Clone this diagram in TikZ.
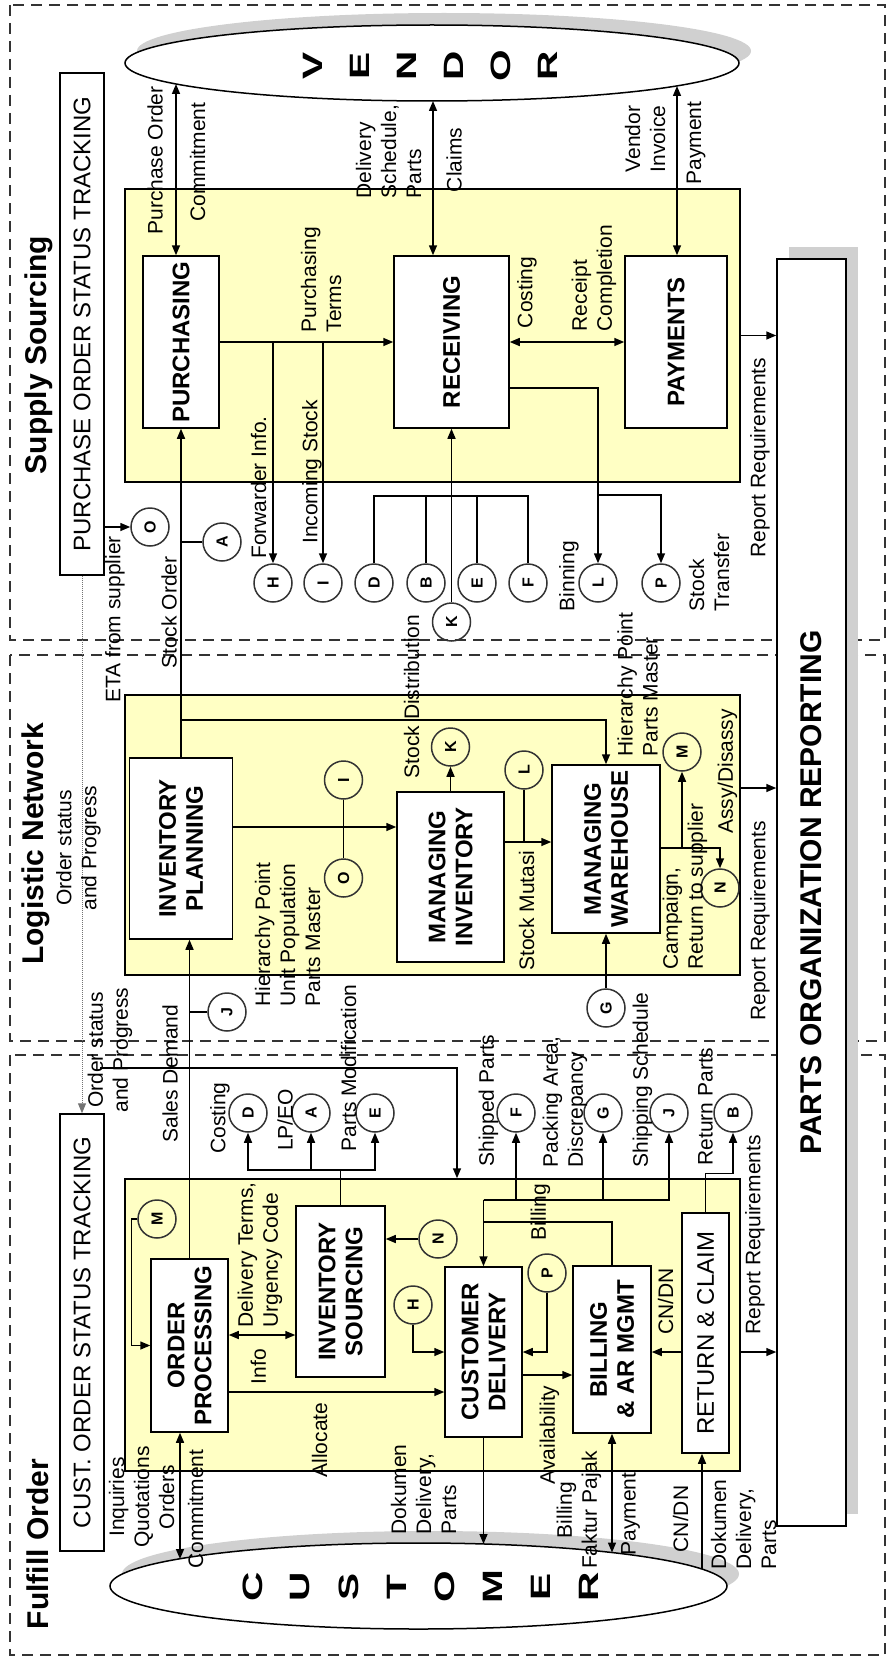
\documentclass[tikz,border=0pt]{standalone}
\usepackage{fontspec}
\setmainfont{Liberation Sans}
\usetikzlibrary{arrows.meta,shapes.geometric}

\definecolor{areafill}{RGB}{255,255,196}
\definecolor{shadowgray}{RGB}{208,208,208}

\tikzset{every picture/.style={line width=1.5pt}}
\tikzset{
  secframe/.style={dash pattern=on 11pt off 7pt, line width=1.6pt, draw=black!80},
  area/.style={draw, fill=areafill, inner sep=0pt},
  proc/.style={draw, fill=white, rotate=90, inner sep=2pt, align=center, font=\bfseries\fontsize{24}{27}\selectfont},
  track/.style={draw, fill=white, rotate=90, inner sep=0pt, font=\fontsize{24}{27}\selectfont},
  conn/.style={circle, draw=black!80, rotate=90, minimum size=38pt, inner sep=0pt, font=\bfseries\fontsize{16}{16}\selectfont},
  lbl/.style={rotate=90, inner sep=0pt, align=left, font=\fontsize{21}{25}\selectfont},
  sect/.style={rotate=90, inner sep=0pt, font=\bfseries\fontsize{30}{30}\selectfont},
  party/.style={ellipse, draw, fill=white, inner sep=0pt},
  bigch/.style={rotate=90, inner sep=0pt, font=\bfseries\fontsize{28}{28}\selectfont},
  arr/.style={-{Triangle[length=10pt,width=8pt]}},
  darr/.style={{Triangle[length=10pt,width=8pt]}-{Triangle[length=10pt,width=8pt]}},
  status/.style={densely dotted, draw=black!55, line width=1pt, -{Triangle[length=10pt,width=8pt]}}
}
\newcommand{\widech}[1]{\scalebox{1.45}[1]{#1}}

\begin{document}
\begin{tikzpicture}[x=1pt,y=1pt,yscale=-1]
\useasboundingbox (0,0) rectangle (888,1659);
\fill[white] (0,0) rectangle (888,1659);

%Section frames
\draw[secframe] (10,5) rectangle (885,640);
\draw[secframe] (10,655) rectangle (885,1041);
\draw[secframe] (10,1055) rectangle (885,1655);
\node[sect] (tsup) at (38.5,355) {Supply Sourcing};
\node[sect] (tlog) at (36,844) {Logistic Network};
\node[sect] (tful) at (37.5,1544) {Fulfill Order};

%Yellow areas
\node[area, minimum width=615pt, minimum height=293pt] (supply) at (432.5,335.5) {};
\node[area, minimum width=615pt, minimum height=280pt] (logistic) at (432.5,835) {};
\node[area, minimum width=615pt, minimum height=292pt] (fulfill) at (432.5,1325) {};

%Reporting box
\fill[shadowgray] (789,247) rectangle (858,1514);
\node[proc, minimum width=1267pt, minimum height=69pt, font=\bfseries\fontsize{30}{30}\selectfont] (report) at (811.5,892.5) {PARTS ORGANIZATION REPORTING};

%Vendor and customer
\fill[shadowgray] (444,51) ellipse [x radius=307, y radius=38];
\node[party, minimum width=614pt, minimum height=76pt] (vendor) at (432,63) {};
\fill[shadowgray] (430.5,1574) ellipse [x radius=308.5, y radius=43];
\node[party, minimum width=617pt, minimum height=86pt] (customer) at (418.5,1586) {};
\node[bigch] (v1) at (313,66) {\widech{V}};
\node[bigch] (v2) at (360,66) {\widech{E}};
\node[bigch] (v3) at (407,66) {\widech{N}};
\node[bigch] (v4) at (454,66) {\widech{D}};
\node[bigch] (v5) at (501,66) {\widech{O}};
\node[bigch] (v6) at (548,66) {\widech{R}};
\node[bigch] (c1) at (252.5,1587) {\widech{C}};
\node[bigch] (c2) at (300.5,1587) {\widech{U}};
\node[bigch] (c3) at (348.5,1587) {\widech{S}};
\node[bigch] (c4) at (396.5,1587) {\widech{T}};
\node[bigch] (c5) at (444.5,1587) {\widech{O}};
\node[bigch] (c6) at (492.5,1587) {\widech{M}};
\node[bigch] (c7) at (540.5,1587) {\widech{E}};
\node[bigch] (c8) at (588.5,1587) {\widech{R}};
\coordinate (vpo) at (176,84);
\coordinate (vrc) at (433,101);
\coordinate (vpy) at (677,86);
\coordinate (cop) at (180,1559);
\coordinate (ccd) at (483.5,1544);
\coordinate (cbl) at (612,1552.5);
\coordinate (crc) at (702,1569);
\coordinate (ordst) at (100,1068);

%Process boxes
\node[proc, minimum width=172pt, minimum height=76pt] (purch) at (181,342) {PURCHASING};
\node[proc, minimum width=172pt, minimum height=115pt] (recv) at (451.5,342) {RECEIVING};
\node[proc, minimum width=172pt, minimum height=102pt] (paym) at (676,342) {PAYMENTS};
\node[proc, minimum width=181pt, minimum height=103pt] (invplan) at (181,848.5) {INVENTORY\\PLANNING};
\node[proc, minimum width=170pt, minimum height=107pt] (maninv) at (450.5,877) {MANAGING\\INVENTORY};
\node[proc, minimum width=168pt, minimum height=108pt] (manwh) at (606,849) {MANAGING\\WAREHOUSE};
\node[proc, minimum width=173pt, minimum height=77pt] (ordproc) at (189.5,1345.5) {ORDER\\PROCESSING};
\node[proc, minimum width=171pt, minimum height=89pt] (invsrc) at (340.5,1291.5) {INVENTORY\\SOURCING};
\node[proc, minimum width=170pt, minimum height=77pt] (custdel) at (483.5,1352) {CUSTOMER\\DELIVERY};
\node[proc, minimum width=167pt, minimum height=78pt] (billing) at (612,1349.5) {BILLING\\\& AR MGMT};
\node[track, minimum width=240pt, minimum height=47pt] (retclaim) at (705.5,1333) {RETURN \& CLAIM};
\node[track, minimum width=502pt, minimum height=44pt] (potrack) at (82,324) {PURCHASE ORDER STATUS TRACKING};
\node[track, minimum width=437pt, minimum height=44pt] (cotrack) at (82,1332.5) {CUST. ORDER STATUS TRACKING};

%Connector circles
\node[conn] (cO1) at (150,527) {O};
\node[conn] (cA1) at (222,542) {A};
\node[conn] (cH1) at (273,583) {H};
\node[conn] (cI1) at (323,583) {I};
\node[conn] (cD1) at (374,583) {D};
\node[conn] (cB1) at (426,583) {B};
\node[conn] (cE1) at (477,583) {E};
\node[conn] (cF1) at (528,583) {F};
\node[conn] (cK1) at (451.5,622) {K};
\node[conn] (cL1) at (598,583) {L};
\node[conn] (cP1) at (661,583) {P};
\node[conn] (cK2) at (450.5,747) {K};
\node[conn] (cI2) at (343.5,780) {I};
\node[conn] (cO2) at (343.5,878) {O};
\node[conn] (cL2) at (524,770) {L};
\node[conn] (cM2) at (682,752) {M};
\node[conn] (cN2) at (720,888) {N};
\node[conn] (cJ2) at (227,1012) {J};
\node[conn] (cG2) at (606,1008) {G};
\node[conn] (cD3) at (248,1113) {D};
\node[conn] (cA3) at (311,1113) {A};
\node[conn] (cE3) at (375,1113) {E};
\node[conn] (cF3) at (516,1113) {F};
\node[conn] (cG3) at (603,1113) {G};
\node[conn] (cJ3) at (669,1113) {J};
\node[conn] (cB3) at (733,1113) {B};
\node[conn] (cM3) at (157,1219) {M};
\node[conn] (cN3) at (438,1239) {N};
\node[conn] (cH3) at (413,1305) {H};
\node[conn] (cP3) at (547,1273) {P};

%Supply connectors
\draw[darr] (vpo) -- (purch.east -| vpo);
\draw[darr] (vrc) -- (recv.east -| vrc);
\draw[darr] (vpy) -- (paym.east -| vpy);
\draw[arr] (purch.south) -- (recv.north);
\draw[arr] (cH1 |- purch.south) -- (cH1);
\draw[arr] (cI1 |- purch.south) -- (cI1);
\draw[darr] (recv.south) -- (paym.north);
\draw[arr] (recv.south |- 0,388) -| (cL1);
\draw[arr] (cL1 |- 0,495) -| (cP1);
\draw (cD1) |- (cF1 |- 0,496) -- (cF1);
\draw (cB1) -- (cB1 |- 0,496);
\draw (cE1) -- (cE1 |- 0,496);
\draw[arr] (cK1) -- (recv.west);
\draw[arr] (potrack.south |- cO1) -- (cO1);
\draw[arr] (invplan.east) -- (purch.west);
\draw (invplan.east |- cA1) -- (cA1);
\draw[arr] (invplan.east |- 0,720) -| (manwh.east);
\draw[status] (potrack.west) -- (cotrack.east);

%Logistic connectors
\draw[arr] (invplan.south |- 0,827) -- (maninv.north |- 0,827);
\draw (cI2) -- (cO2);
\draw[arr] (maninv.east) -- (cK2);
\draw[arr] (maninv.south |- 0,842) -- (manwh.north |- 0,842);
\draw (cL2) -- (cL2 |- 0,842);
\draw[arr] (manwh.south |- 0,848) -| (cN2);
\draw[arr] (cM2 |- 0,848) -- (cM2);
\draw[arr] (cG2) -- (manwh.west);
\draw[arr] (ordproc.east) -- (ordproc.east |- invplan.west);
\draw (ordproc.east |- cJ2) -- (cJ2);
\draw[arr] (ordst) -| ([xshift=24.5pt]fulfill.north);

%Fulfill connectors
\draw[darr] (cop) -- (cop |- ordproc.west);
\draw[arr] (cM3.north) -- +(-6,0) |- (ordproc.north);
\draw[darr] (ordproc.south |- 0,1335) -- (invsrc.north |- 0,1335);
\draw[arr] (ordproc.south |- 0,1392) -- (custdel.north |- 0,1392);
\draw[arr] (invsrc.east) |- (cD3 |- 0,1170) -- (cD3);
\draw[arr] (invsrc.east |- 0,1170) -| (cA3);
\draw[arr] (invsrc.east |- 0,1170) -| (cE3);
\draw[arr] (cN3) -- (invsrc.south |- cN3);
\draw[arr] (cH3) |- (custdel.north);
\draw[arr] (cP3) |- (custdel.south);
\draw[arr] (custdel.south |- 0,1375) -- (billing.north |- 0,1375);
\draw[arr] (custdel.west) -- (ccd);
\draw[darr] (cbl) -- (billing.west);
\draw[arr] (retclaim.north |- 0,1352) -- (billing.south |- 0,1352);
\draw[arr] (crc) -- (crc |- retclaim.west);
\draw[arr] (retclaim.east) -- ++(0,-39) -| (cB3);
\draw[arr] (custdel.east |- 0,1200) -| (cF3);
\draw[arr] (custdel.east |- 0,1200) -| (cG3);
\draw[arr] (custdel.east |- 0,1200) -| (cJ3);
\draw[arr] (custdel.east |- 0,1200) -- (custdel.east);
\draw (billing.east) |- (custdel.east |- 0,1222);

%Report connectors
\draw[arr] (supply.east) -- (report.north |- supply.east);
\draw[arr] (logistic.east |- 0,788) -- (report.north |- 0,788);
\draw[arr] (fulfill.east |- 0,1352) -- (report.north |- 0,1352);

% Text Node
\node[lbl] (lpo) at (155,160.5) {Purchase Order};
\node[lbl] (lcm1) at (197.5,162) {Commitment};
\node[lbl, anchor=west] (ldsp) at (388.5,199) {Delivery\\Schedule,\\Parts};
\node[lbl] (lclm) at (454,160) {Claims};
\node[lbl, anchor=west] (lvin) at (645,173) {Vendor\\Invoice};
\node[lbl] (lpay1) at (696,143) {Payment};
\node[lbl, anchor=west] (lpt) at (321,333) {Purchasing\\Terms};
\node[lbl] (lcst1) at (527,292.5) {Costing};
\node[lbl, anchor=west] (lrc) at (594,332) {Receipt\\Completion};
\node[lbl] (lfwd) at (258.5,487.5) {Forwarder Info.};
\node[lbl] (linc) at (312,472) {Incoming Stock};
\node[lbl] (lso) at (169,612.5) {Stock Order};
\node[lbl] (leta) at (115,619.5) {ETA from supplier};
\node[lbl] (lbin) at (569,576) {Binning};
\node[lbl, anchor=west] (lstr) at (709,612) {Stock\\Transfer};
\node[lbl] (lrr1) at (760,457.5) {Report Requirements};
\node[lbl] (lsd) at (411.5,696.5) {Stock Distribution};
% Text Node
\node[lbl, align=center] (los1) at (78.5,848) {Order status\\and Progress};
\node[lbl, align=center] (los2) at (110,1050) {Order status\\and Progress};
\node[lbl] (lsdm) at (170,1073.5) {Sales Demand};
\node[lbl, anchor=west] (lhp1) at (287.5,1007) {Hierarchy Point\\Unit Population\\Parts Master};
\node[lbl] (lsm) at (526.5,910.5) {Stock Mutasi};
\node[lbl, anchor=west] (lhp2) at (637.5,757) {Hierarchy Point\\Parts Master};
\node[lbl, anchor=west] (lcmp) at (685,970) {Campaign,\\Return to supplier};
\node[lbl] (lasy) at (727.5,771.5) {Assy/Disassy};
\node[lbl] (lrr2) at (760,921) {Report Requirements};
% Text Node
\node[lbl] (lcst2) at (220,1118) {Costing};
\node[lbl] (llp) at (285,1120) {LP/EO};
\node[lbl] (lpm) at (348.5,1068) {Parts Modification};
\node[lbl] (lshp) at (488.5,1100.5) {Shipped Parts};
\node[lbl, anchor=west] (lpack) at (565,1168) {Packing Area,\\Discrepancy};
\node[lbl] (lshs) at (642.5,1080) {Shipping Schedule};
\node[lbl] (lrp) at (705.5,1106.5) {Return Parts};
\node[lbl, anchor=west] (ldt) at (260,1328) {Delivery Terms,\\Urgency Code};
\node[lbl] (linfo) at (258.5,1366.5) {Info};
\node[lbl] (lalc) at (319.5,1440) {Allocate};
\node[lbl, align=center] (liqo) at (141.5,1497) {Inquiries\\Quotations\\Orders};
\node[lbl] (lcm2) at (195.5,1509) {Commitment};
\node[lbl, anchor=west] (ldd1) at (423.5,1535) {Dokumen\\Delivery,\\Parts};
\node[lbl] (lav) at (549.5,1435) {Availability};
\node[lbl, align=center] (lbfp) at (579,1510) {Billing\\Faktur Pajak};
\node[lbl] (lpay2) at (630.5,1514) {Payment};
\node[lbl] (lcn1) at (665.5,1301.5) {CN/DN};
\node[lbl] (lcn2) at (680.5,1519) {CN/DN};
\node[lbl, anchor=west] (ldd2) at (743.5,1570) {Dokumen\\Delivery,\\Parts};
\node[lbl] (lrr3) at (755,1235) {Report Requirements};
\node[lbl] (lbil) at (540.5,1212) {Billing};

\end{tikzpicture}
\end{document}
